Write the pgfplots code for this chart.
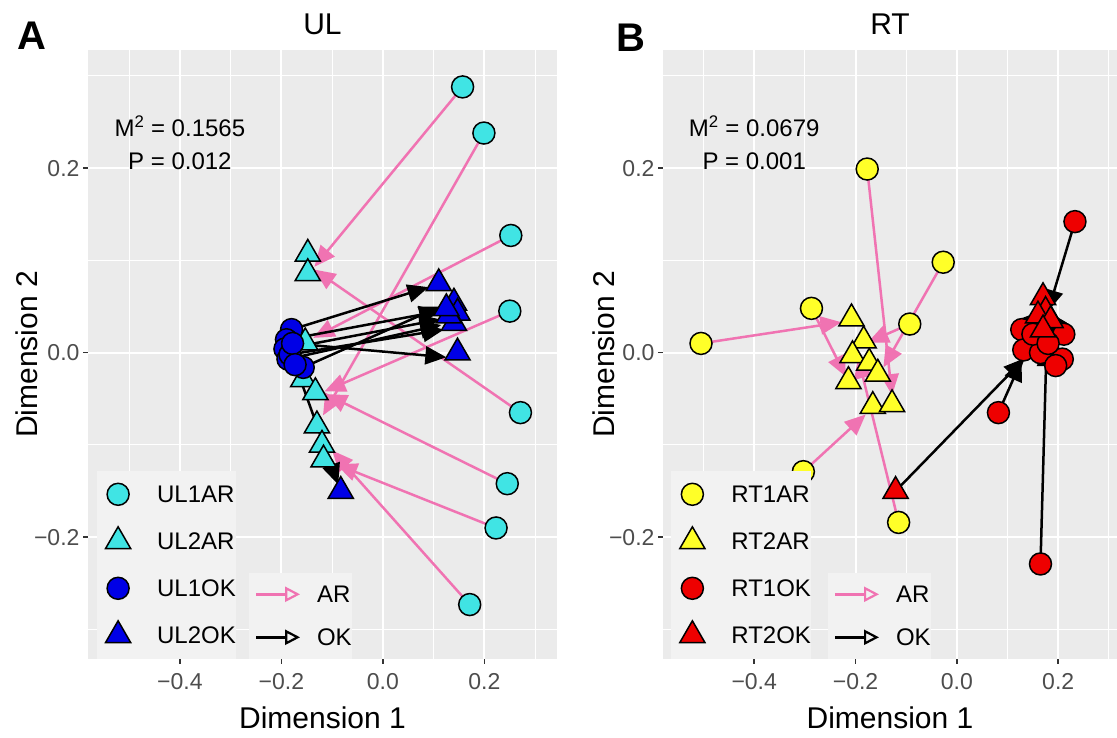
\documentclass[border=0pt]{standalone}
\usepackage{fontspec}
\setmainfont{Liberation Sans}
\usepackage{pgfplots}
\usepackage{pgfplotstable}
\pgfplotsset{compat=1.18}
\usetikzlibrary{arrows.meta}

\definecolor{panelbg}{HTML}{EBEBEB}
\definecolor{legbg}{HTML}{F2F2F2}
\definecolor{tickgray}{HTML}{4D4D4D}
\definecolor{tickline}{HTML}{333333}
\definecolor{ulcyan}{RGB}{64,228,228}
\definecolor{ulblue}{RGB}{0,0,230}
\definecolor{rtyellow}{RGB}{255,255,40}
\definecolor{rtred}{RGB}{238,0,0}
\definecolor{arpink}{RGB}{240,115,178}

% UL panel
\pgfplotstableread{
x y
0.157 0.288
0.199 0.238
0.252 0.127
0.250 0.045
0.271 -0.065
0.245 -0.142
0.223 -0.190
0.171 -0.273
}\ulOneAR
\pgfplotstableread{
x y
-0.148 0.107
-0.148 0.086
-0.153 0.011
-0.157 -0.029
-0.133 -0.043
-0.130 -0.079
-0.120 -0.100
-0.117 -0.116
}\ulTwoAR
\pgfplotstableread{
x y
-0.180 0.025
-0.190 0.014
-0.193 0.004
-0.187 -0.007
-0.183 -0.002
-0.178 0.010
-0.157 -0.016
-0.173 -0.013
}\ulOneOK
\pgfplotstableread{
x y
0.110 0.075
0.140 0.054
0.147 0.043
0.140 0.032
0.130 0.040
0.147 0.000
0.125 0.048
-0.083 -0.150
}\ulTwoOK
\pgfplotstableread{
x0 y0 x1 y1
0.157 0.288 -0.135 0.093
0.199 0.238 -0.118 -0.068
0.252 0.127 -0.137 0.016
0.250 0.045 -0.115 -0.042
0.271 -0.065 -0.135 0.090
0.245 -0.142 -0.112 -0.045
0.223 -0.190 -0.092 -0.121
0.171 -0.273 -0.100 -0.106
}\ulArrAR
\pgfplotstableread{
x0 y0 x1 y1
-0.180 0.025 0.090 0.071
-0.190 0.014 0.113 0.045
-0.193 0.004 0.113 0.036
-0.187 -0.007 0.115 0.030
-0.183 -0.002 0.120 0.025
-0.178 0.010 0.125 -0.005
-0.157 -0.016 0.113 0.050
-0.173 -0.013 -0.088 -0.143
}\ulArrOK

% RT panel
\pgfplotstableread{
x y
-0.505 0.010
-0.287 0.048
-0.177 0.199
-0.027 0.098
-0.093 0.031
-0.303 -0.129
-0.115 -0.184
}\rtOneAR
\pgfplotstableread{
x y
-0.208 0.037
-0.184 0.013
-0.206 -0.003
-0.173 -0.011
-0.156 -0.023
-0.214 -0.031
-0.166 -0.058
-0.128 -0.056
}\rtTwoAR
\pgfplotstableread{
x y
0.233 0.142
0.128 0.025
0.211 0.020
0.132 0.003
0.165 0.000
0.208 -0.007
0.195 -0.014
0.150 0.020
0.180 0.010
0.082 -0.065
0.165 -0.229
}\rtOneOK
\pgfplotstableread{
x y
0.170 0.060
0.175 0.045
0.160 0.040
0.185 0.035
0.170 0.025
-0.121 -0.150
}\rtTwoOK
\pgfplotstableread{
x0 y0 x1 y1
-0.505 0.010 -0.228 0.033
-0.287 0.048 -0.219 -0.026
-0.177 0.199 -0.128 -0.046
-0.027 0.098 -0.145 -0.016
-0.093 0.031 -0.176 0.011
-0.303 -0.129 -0.180 -0.067
-0.115 -0.184 -0.195 -0.005
}\rtArrAR
\pgfplotstableread{
x0 y0 x1 y1
0.233 0.142 0.180 0.045
0.165 -0.229 0.177 0.008
0.082 -0.065 0.128 -0.008
-0.121 -0.150 0.134 -0.006
0.128 0.025 0.165 0.045
0.211 0.020 0.178 0.045
0.132 0.003 0.162 0.035
0.208 -0.007 0.182 0.030
0.195 -0.014 0.176 0.020
0.165 0.000 0.170 0.040
}\rtArrOK

\pgfplotsset{
  ggpanel/.style={
    scale only axis, anchor=south west,
    height=609pt, ymin=-0.332, ymax=0.328,
    axis background/.style={fill=panelbg},
    axis line style={draw=none},
    tick pos=left,
    xtick={-0.4,-0.2,0,0.2}, minor xtick={-0.5,-0.3,-0.1,0.1,0.3},
    ytick={-0.2,0,0.2}, minor ytick={-0.3,-0.1,0.1,0.3},
    xticklabels={−0.4,−0.2,0.0,0.2},
    yticklabels={−0.2,0.0,0.2},
    grid=both,
    major grid style={white, line width=2pt},
    minor grid style={white, line width=1pt},
    tick align=outside, major tick length=5pt, minor tick length=0pt,
    major tick style={tickline, line width=1.5pt},
    ticklabel style={font=\fontsize{23}{23}\selectfont, text=tickgray},
    xticklabel style={yshift=-6pt},
    xlabel={Dimension 1}, ylabel={Dimension 2},
    xlabel style={at={(axis description cs:0.5,-0.097)}, anchor=center},
    ylabel style={at={(axis description cs:-0.13,0.5)}, anchor=center},
    label style={font=\fontsize{30}{30}\selectfont},
    title style={at={(axis description cs:0.5,1.033)}, anchor=center, font=\fontsize{30}{30}\selectfont},
    legend style={anchor=south west, fill=legbg, draw=none, inner sep=0pt,
      font=\fontsize{24}{24}\selectfont, row sep=0pt,
      nodes={inner sep=0pt, text height=17pt, text depth=0pt}},
    legend cell align=left,
  },
  overlay/.style={hide axis, axis background/.style={draw=none, fill=none}},
  ptkey/.style={legend image code/.code={
      \path[draw=none, fill=none, -] (-21pt,-23.5pt) rectangle (39pt,23.5pt);
      \draw[##1] plot coordinates {(0pt,0pt)};}},
  arkey/.style={legend image code/.code={
      \path[draw=none, fill=none, -] (-7pt,-21.5pt) rectangle (61pt,21.5pt);
      \draw[##1] (0pt,0pt) -- (44pt,0pt);}},
  cmark/.style={only marks, mark=*, mark size=11pt,
    mark options={fill=#1, draw=black, line width=1.5pt}},
  tmark/.style={only marks, mark=triangle*, mark size=14.5pt,
    mark options={fill=#1, draw=black, line width=1.5pt}},
  arr/.style={#1, line width=2.5pt,
    quiver={u=\thisrow{x1}-\thisrow{x0}, v=\thisrow{y1}-\thisrow{y0},
      every arrow/.append style={-{Triangle[length=21pt,width=18pt]}}}},
  legarr/.style={#1, line width=2.5pt, -{Triangle[open,length=15pt,width=15pt,line width=2.2pt]}},
}

\begin{document}
\begin{tikzpicture}
\path[use as bounding box] (0pt,0pt) rectangle (1117pt,738pt);

% ---------- panel A ----------
\begin{axis}[ggpanel, at={(88pt,79pt)}, width=469pt,
  xmin=-0.581, xmax=0.343, title={UL},
  ptkey, legend style={at={(0.019,0)}}]
  \addlegendimage{cmark=ulcyan}
  \addlegendentry{UL1AR}
  \addlegendimage{tmark=ulcyan}
  \addlegendentry{UL2AR}
  \addlegendimage{cmark=ulblue}
  \addlegendentry{UL1OK}
  \addlegendimage{tmark=ulblue}
  \addlegendentry{UL2OK}
  \addplot[cmark=ulcyan, forget plot] table {\ulOneAR};
  \addplot[tmark=ulcyan, forget plot] table {\ulTwoAR};
  \addplot[cmark=ulblue, forget plot] table {\ulOneOK};
  \addplot[tmark=ulblue, forget plot] table {\ulTwoOK};
  \addplot[arr=arpink, forget plot] table[x=x0, y=y0] {\ulArrAR};
  \addplot[arr=black, forget plot] table[x=x0, y=y0] {\ulArrOK};
  \node[font=\fontsize{24}{24}\selectfont] at (axis cs:-0.40,0.245) {M\textsuperscript{2} = 0.1565};
  \node[font=\fontsize{24}{24}\selectfont] at (axis cs:-0.40,0.207) {P = 0.012};
\end{axis}
\begin{axis}[ggpanel, overlay, at={(88pt,79pt)}, width=469pt,
  xmin=-0.581, xmax=0.343,
  arkey, legend style={at={(0.343,0)}}]
  \addlegendimage{legarr=arpink}
  \addlegendentry{AR}
  \addlegendimage{legarr=black}
  \addlegendentry{OK}
\end{axis}

% ---------- panel B ----------
\begin{axis}[ggpanel, at={(663pt,79pt)}, width=454pt,
  xmin=-0.580, xmax=0.316, title={RT},
  ptkey, legend style={at={(0.018,0)}}]
  \addlegendimage{cmark=rtyellow}
  \addlegendentry{RT1AR}
  \addlegendimage{tmark=rtyellow}
  \addlegendentry{RT2AR}
  \addlegendimage{cmark=rtred}
  \addlegendentry{RT1OK}
  \addlegendimage{tmark=rtred}
  \addlegendentry{RT2OK}
  \addplot[cmark=rtyellow, forget plot] table {\rtOneAR};
  \addplot[tmark=rtyellow, forget plot] table {\rtTwoAR};
  \addplot[cmark=rtred, forget plot] table {\rtOneOK};
  \addplot[tmark=rtred, forget plot] table {\rtTwoOK};
  \addplot[arr=arpink, forget plot] table[x=x0, y=y0] {\rtArrAR};
  \addplot[arr=black, forget plot] table[x=x0, y=y0] {\rtArrOK};
  \node[font=\fontsize{24}{24}\selectfont] at (axis cs:-0.40,0.245) {M\textsuperscript{2} = 0.0679};
  \node[font=\fontsize{24}{24}\selectfont] at (axis cs:-0.40,0.207) {P = 0.001};
\end{axis}
\begin{axis}[ggpanel, overlay, at={(663pt,79pt)}, width=454pt,
  xmin=-0.580, xmax=0.316,
  arkey, legend style={at={(0.363,0)}}]
  \addlegendimage{legarr=arpink}
  \addlegendentry{AR}
  \addlegendimage{legarr=black}
  \addlegendentry{OK}
\end{axis}

\node[font=\bfseries\fontsize{40}{40}\selectfont] at (32pt,702pt) {A};
\node[font=\bfseries\fontsize{40}{40}\selectfont] at (631pt,700pt) {B};
\end{tikzpicture}
\end{document}
